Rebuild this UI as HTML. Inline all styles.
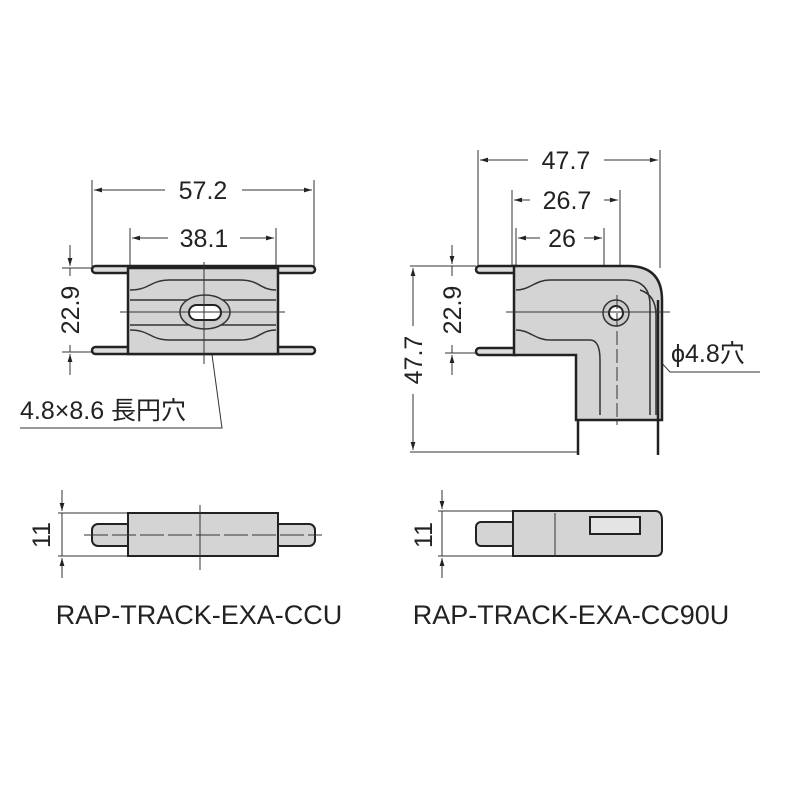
<!DOCTYPE html><html><head><style>body{margin:0;background:#fff}svg{display:block}text{font-family:"Liberation Sans","Noto Sans CJK JP",sans-serif;fill:#222}</style></head><body>
<svg width="800" height="800" viewBox="0 0 800 800" xmlns="http://www.w3.org/2000/svg">
<defs><marker id="a" viewBox="0 0 10 10" refX="10" refY="5" markerWidth="8" markerHeight="8" orient="auto-start-reverse"><path d="M0,2L10,5L0,8z" fill="#222"/></marker></defs>
<g stroke="#333" stroke-width="1" fill="none">
<line x1="92" y1="180" x2="92" y2="268"/><line x1="314" y1="180" x2="314" y2="268"/>
<line x1="94" y1="190" x2="165" y2="190" marker-start="url(#a)"/><line x1="242" y1="190" x2="312" y2="190" marker-end="url(#a)"/>
<line x1="130" y1="228" x2="130" y2="268"/><line x1="276" y1="228" x2="276" y2="268"/>
<line x1="132" y1="238" x2="168" y2="238" marker-start="url(#a)"/><line x1="240" y1="238" x2="274" y2="238" marker-end="url(#a)"/>
<line x1="62" y1="268" x2="92" y2="268"/><line x1="62" y1="352" x2="92" y2="352"/>
<line x1="70" y1="245" x2="70" y2="266" marker-end="url(#a)"/><line x1="70" y1="375" x2="70" y2="354" marker-end="url(#a)"/>
<line x1="70" y1="268" x2="70" y2="276"/><line x1="70" y1="345" x2="70" y2="352"/>
<polyline points="207,318 222,428 20,428"/>
<line x1="478" y1="150" x2="478" y2="268"/><line x1="660" y1="150" x2="660" y2="268"/>
<line x1="480" y1="160" x2="528" y2="160" marker-start="url(#a)"/><line x1="604" y1="160" x2="658" y2="160" marker-end="url(#a)"/>
<line x1="512" y1="190" x2="512" y2="268"/><line x1="620" y1="190" x2="620" y2="300"/>
<line x1="514" y1="200" x2="530" y2="200" marker-start="url(#a)"/><line x1="604" y1="200" x2="618" y2="200" marker-end="url(#a)"/>
<line x1="516" y1="228" x2="516" y2="268"/><line x1="604" y1="228" x2="604" y2="268"/>
<line x1="518" y1="238" x2="540" y2="238" marker-start="url(#a)"/><line x1="584" y1="238" x2="602" y2="238" marker-end="url(#a)"/>
<line x1="410" y1="266" x2="476" y2="266"/><line x1="445" y1="353" x2="476" y2="353"/><line x1="410" y1="452" x2="578" y2="452"/>
<line x1="452" y1="245" x2="452" y2="264" marker-end="url(#a)"/><line x1="452" y1="375" x2="452" y2="355" marker-end="url(#a)"/>
<line x1="452" y1="266" x2="452" y2="276"/><line x1="452" y1="345" x2="452" y2="353"/>
<line x1="413" y1="326" x2="413" y2="268" marker-end="url(#a)"/><line x1="413" y1="394" x2="413" y2="450" marker-end="url(#a)"/>
<polyline points="620,318 670,372 760,372"/>
<line x1="58" y1="513" x2="128" y2="513"/><line x1="58" y1="556" x2="128" y2="556"/>
<line x1="62" y1="490" x2="62" y2="511" marker-end="url(#a)"/><line x1="62" y1="578" x2="62" y2="558" marker-end="url(#a)"/>
<line x1="62" y1="513" x2="62" y2="556"/>
<line x1="438" y1="511" x2="513" y2="511"/><line x1="438" y1="556" x2="513" y2="556"/>
<line x1="442" y1="490" x2="442" y2="509" marker-end="url(#a)"/><line x1="442" y1="578" x2="442" y2="558" marker-end="url(#a)"/>
<line x1="442" y1="511" x2="442" y2="556"/>
</g>
<g stroke="#222" stroke-width="2.5">
<rect x="92" y="266" width="223" height="7" rx="3.5" fill="#ddd"/>
<rect x="92" y="347" width="223" height="7" rx="3.5" fill="#ddd"/>
<rect x="128" y="268" width="150" height="86" fill="#d4d4d4"/>
</g>
<g stroke="#333" stroke-width="1.5" fill="none">
<path d="M130,290 C150,290 150,280 170,280 H240 C260,280 260,290 276,290"/>
<path d="M130,330 C150,330 150,340 170,340 H240 C260,340 260,330 276,330"/>
<line x1="130" y1="300" x2="276" y2="300"/><line x1="130" y1="325" x2="276" y2="325"/>
</g>
<ellipse cx="205" cy="312" rx="25" ry="17" fill="#ccc" stroke="#333" stroke-width="1.5"/>
<rect x="189" y="305" width="32" height="15" rx="7.5" fill="#fff" stroke="#222" stroke-width="2"/>
<g stroke="#333" stroke-width="1"><line x1="120" y1="312" x2="285" y2="312"/><line x1="204" y1="262" x2="204" y2="364"/></g>
<g stroke="#222" stroke-width="2.5">
<rect x="476" y="266" width="44" height="7" rx="3.5" fill="#ddd"/>
<rect x="476" y="348" width="44" height="7" rx="3.5" fill="#ddd"/>
<path d="M514,266 H628 Q662,266 662,300 V420 H576 V355 H514 Z" fill="#d4d4d4"/>
<line x1="578" y1="420" x2="578" y2="455"/><line x1="658" y1="300" x2="658" y2="455"/>
</g>
<g stroke="#333" stroke-width="1.5" fill="none">
<path d="M516,290 C530,290 535,280 550,280 H625 Q650,280 650,305 V415"/>
<path d="M516,330 C530,330 535,340 550,340 H590 Q600,340 600,360 V415"/>
<path d="M640,290 Q656,295 656,315 V415"/>
</g>
<circle cx="616" cy="313" r="13" fill="#ccc" stroke="#333" stroke-width="1.5"/>
<circle cx="616" cy="313" r="7" fill="#fff" stroke="#222" stroke-width="2"/>
<g stroke="#333" stroke-width="1"><line x1="506" y1="312" x2="670" y2="312"/><line x1="617" y1="295" x2="617" y2="425" stroke-dasharray="14,4"/></g>
<g stroke="#222" stroke-width="2" fill="#d4d4d4">
<rect x="92" y="524" width="40" height="22" rx="6"/><rect x="274" y="524" width="41" height="22" rx="6"/>
<rect x="128" y="513" width="150" height="43"/>
<rect x="476" y="522" width="40" height="24" rx="5"/>
<path d="M513,511 H655 Q662,511 662,520 V550 Q662,556 655,556 H513 Z"/>
<rect x="590" y="517" width="50" height="17" fill="#e4e4e4"/>
</g>
<g stroke="#333" stroke-width="1"><line x1="84" y1="535" x2="322" y2="535" stroke-dasharray="24,4"/><line x1="200" y1="505" x2="200" y2="570"/><line x1="555" y1="513" x2="555" y2="556"/></g>
<g font-size="25">
<text x="203" y="199" text-anchor="middle">57.2</text>
<text x="204" y="247" text-anchor="middle">38.1</text>
<text x="566" y="169" text-anchor="middle">47.7</text>
<text x="567" y="209" text-anchor="middle">26.7</text>
<text x="562" y="247" text-anchor="middle">26</text>
<text x="20" y="419">4.8×8.6 長円穴</text>
<text x="671" y="362">ϕ4.8穴</text>
<text transform="translate(79,310) rotate(-90)" text-anchor="middle">22.9</text>
<text transform="translate(461,310) rotate(-90)" text-anchor="middle">22.9</text>
<text transform="translate(422,360) rotate(-90)" text-anchor="middle">47.7</text>
<text transform="translate(50,535) rotate(-90)" text-anchor="middle">11</text>
<text transform="translate(432,535) rotate(-90)" text-anchor="middle">11</text>
</g>
<g font-size="27"><text x="199" y="624" text-anchor="middle">RAP-TRACK-EXA-CCU</text><text x="571" y="624" text-anchor="middle">RAP-TRACK-EXA-CC90U</text></g>
</svg></body></html>
